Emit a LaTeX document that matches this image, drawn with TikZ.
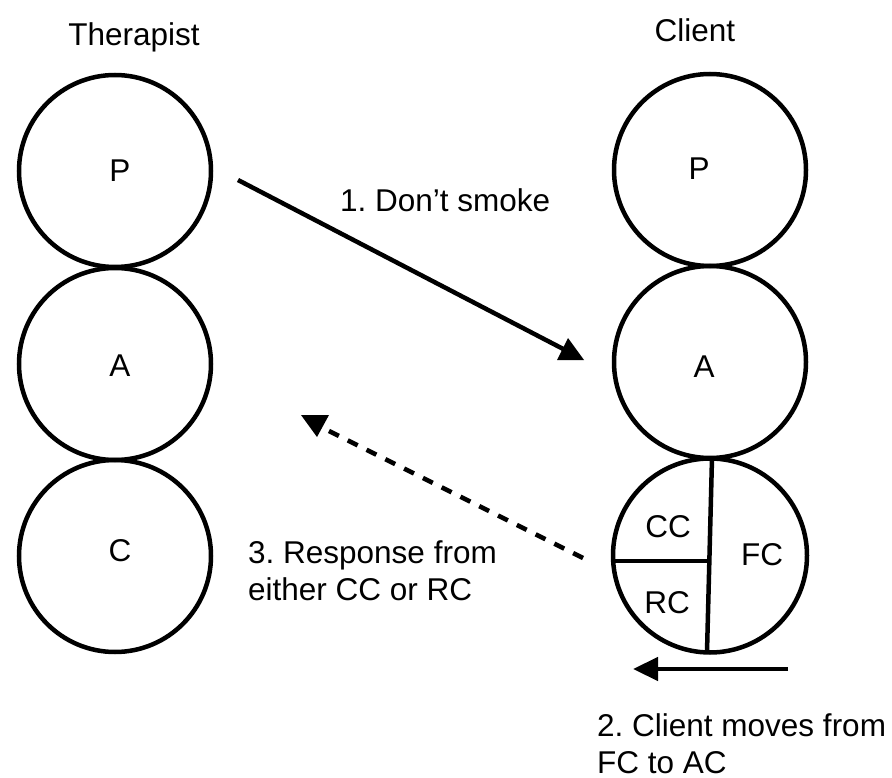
\documentclass[tikz,border=0pt]{standalone}
\usepackage{fontspec}
\setmainfont{Liberation Sans}
\usetikzlibrary{arrows.meta}
\frenchspacing
\begin{document}
\begin{tikzpicture}[x=1pt,y=-1pt,
  ego/.style={circle,draw,line width=4.5pt,minimum size=192pt,inner sep=0pt},
  txt/.style={inner sep=0pt,font=\fontsize{31.5}{37}\selectfont},
  link/.style={line width=4.5pt},
  hint/.style={line width=4.5pt,dash pattern=on 11pt off 10pt},
  headfill/.style={fill=black}]
\useasboundingbox (0,0) rectangle (892,778);

% column headings
\node[txt,anchor=base] (therapist) at (134,46) {Therapist};
\node[txt,anchor=base] (client) at (695,42) {Client};

% therapist ego states
\node[ego] (tP) at (115,171) {};
\node[ego] (tA) at (115,364) {};
\node[ego] (tC) at (115,556) {};
\node[txt] (ltP) at (120,171) {P};
\node[txt] (ltA) at (120,366) {A};
\node[txt] (ltC) at (120,551) {C};

% client ego states
\node[ego] (cP) at (710,170) {};
\node[ego] (cA) at (710,362) {};
\node[ego,minimum size=194pt] (cC) at (710,555.5) {};
\node[txt] (lcP) at (699,169) {P};
\node[txt] (lcA) at (704,367) {A};

% child split into CC / RC / FC
\coordinate (split top) at (712,458);
\coordinate (split bot) at (707,652);
\coordinate (split mid) at (709.5,561);
\coordinate (split west) at (613,561);
\draw[link] (split top) -- (split bot);
\draw[link] (split west) -- (split mid);
\node[txt] (lCC) at (668,527) {CC};
\node[txt] (lRC) at (667,603) {RC};
\node[txt] (lFC) at (762,555) {FC};

% 1. therapist parent -> client adult
\coordinate (m1 start) at (238,180);
\coordinate (m1 end) at (569,352);
\coordinate (m1 h1) at (557,360);
\coordinate (m1 h2) at (584,360);
\coordinate (m1 h3) at (568,338);
\draw[link] (m1 start) -- (m1 end);
\fill[headfill] (m1 h1) -- (m1 h2) -- (m1 h3) -- cycle;
\node[txt,anchor=base west] (m1 text) at (340,212) {1. Don’t smoke};

% 2. client moves from FC to AC
\coordinate (m2 start) at (788,669);
\coordinate (m2 end) at (633,669);
\draw[link,-{Triangle[length=25pt,width=23pt]}] (m2 start) -- (m2 end);
\node[txt,anchor=base west,align=left] (m2 text) at (597,773) {2. Client moves from\\FC to AC};

% 3. response back to therapist
\coordinate (m3 start) at (583,558);
\coordinate (m3 end) at (319,426);
\coordinate (m3 h1) at (301,415);
\coordinate (m3 h2) at (329,415);
\coordinate (m3 h3) at (317,437);
\draw[hint] (m3 start) -- (m3 end);
\fill[headfill] (m3 h1) -- (m3 h2) -- (m3 h3) -- cycle;
\node[txt,anchor=base west,align=left] (m3 text) at (248,600) {3. Response from\\either CC or RC};
\end{tikzpicture}
\end{document}
